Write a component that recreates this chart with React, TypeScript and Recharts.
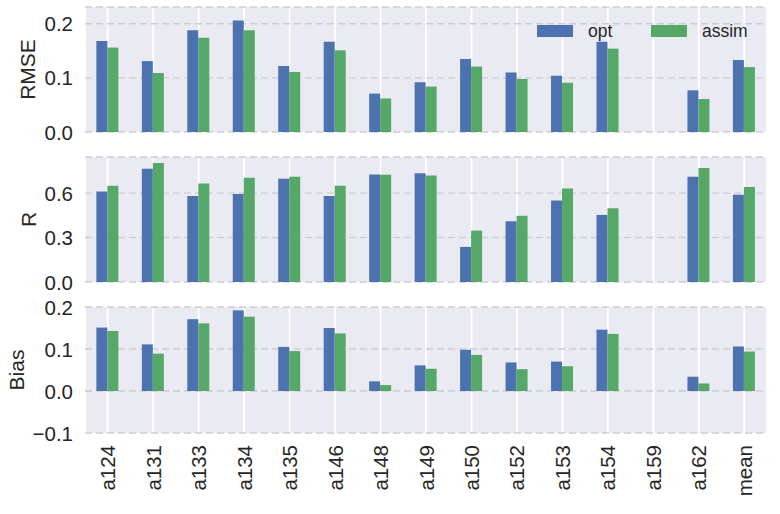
import React from 'react';
import { BarChart, Bar, XAxis, YAxis, CartesianGrid, Legend, Label } from 'recharts';

const stations = ['a124', 'a131', 'a133', 'a134', 'a135', 'a146', 'a148', 'a149', 'a150', 'a152', 'a153', 'a154', 'a159', 'a162', 'mean'];
const rmseOpt = [0.168, 0.131, 0.188, 0.206, 0.122, 0.167, 0.071, 0.092, 0.135, 0.110, 0.104, 0.167, null, 0.077, 0.133];
const rmseAssim = [0.156, 0.109, 0.174, 0.188, 0.111, 0.151, 0.062, 0.084, 0.121, 0.098, 0.091, 0.154, null, 0.061, 0.120];
const rOpt = [0.611, 0.765, 0.580, 0.595, 0.697, 0.580, 0.726, 0.735, 0.237, 0.410, 0.550, 0.453, null, 0.710, 0.589];
const rAssim = [0.650, 0.803, 0.665, 0.704, 0.710, 0.650, 0.724, 0.719, 0.347, 0.447, 0.631, 0.498, null, 0.769, 0.641];
const biasOpt = [0.151, 0.111, 0.171, 0.192, 0.105, 0.150, 0.023, 0.061, 0.098, 0.068, 0.070, 0.146, null, 0.034, 0.106];
const biasAssim = [0.143, 0.089, 0.161, 0.177, 0.095, 0.137, 0.014, 0.053, 0.086, 0.052, 0.059, 0.136, null, 0.018, 0.094];

const rmseTicks = [0, 0.1, 0.2];
const rTicks = [0, 0.3, 0.6];
const biasTicks = [-0.1, 0, 0.1, 0.2];

const seriesNames = ['opt', 'assim'];
const OPT_COLOR = '#4C72B0';
const ASSIM_COLOR = '#55A868';
const TEXT = '#262626';
const FONT = '"Liberation Sans", Arial, sans-serif';
const TICK_FS = 20.5;

const build = (a: (number | null)[], b: (number | null)[]) =>
  stations.map((s, i) => ({ name: s, opt: a[i], assim: b[i] }));

const fmt = (v: number) => {
  const s = (Math.abs(v) < 1e-9 ? 0 : v).toFixed(1);
  return s.replace('-', '\u2212');
};

const XTick = (props: any) => {
  const { x, y, payload } = props;
  return (
    <text
      x={x}
      y={y}
      transform={`rotate(-90, ${x}, ${y})`}
      textAnchor="end"
      dominantBaseline="central"
      fontSize={TICK_FS}
      fontFamily={FONT}
      fill={TEXT}
    >
      {payload.value}
    </text>
  );
};

const YTick = (props: any) => {
  const { x, y, payload } = props;
  return (
    <text
      x={x}
      y={y}
      textAnchor="end"
      dominantBaseline="central"
      fontSize={TICK_FS}
      fontFamily={FONT}
      fill={TEXT}
    >
      {fmt(payload.value)}
    </text>
  );
};

const LegendContent = (props: any) => {
  const payload = [...(props.payload || [])].sort(
    (a: any, b: any) => seriesNames.indexOf(a.value) - seriesNames.indexOf(b.value)
  );
  return (
    <div style={{ position: 'relative', width: 240, height: 24, fontFamily: FONT }}>
      {payload.map((p: any, i: number) => (
        <div
          key={p.value}
          style={{
            position: 'absolute',
            left: i * 114,
            top: 0,
            height: 24,
            display: 'flex',
            alignItems: 'center',
          }}
        >
          <div style={{ width: 36, height: 12, background: p.color }} />
          <span style={{ marginLeft: 15, fontSize: 17.5, color: TEXT, lineHeight: '24px' }}>{p.value}</span>
        </div>
      ))}
    </div>
  );
};

type PanelProps = {
  data: any[];
  ticks: number[];
  domain: [number, number];
  label: string;
  labelX: number;
  top: number;
  height: number;
  marginTop: number;
  marginBottom: number;
  showX?: boolean;
  showLegend?: boolean;
  legendTop?: number;
};

const Panel = ({ data, ticks, domain, label, labelX, top, height, marginTop, marginBottom, showX, showLegend, legendTop }: PanelProps) => (
  <div style={{ position: 'absolute', left: 0, top, width: 780, height }}>
    <BarChart
      width={780}
      height={height}
      data={data}
      margin={{ top: marginTop, bottom: marginBottom, left: 10, right: 13 }}
      barCategoryGap="25%"
      barGap={0}
    >
      <CartesianGrid horizontal={false} vertical={true} stroke="#ffffff" strokeWidth={1.8} fill="#EAEAF2" />
      <CartesianGrid horizontal={true} vertical={false} stroke="#cdcdd4" strokeWidth={1.4} strokeDasharray="7 4" />
      <XAxis
        dataKey="name"
        hide={!showX}
        height={showX ? 71 : 0}
        axisLine={false}
        tickLine={false}
        tickSize={0}
        tickMargin={12}
        interval={0}
        tick={<XTick />}
      />
      <YAxis
        type="number"
        domain={domain}
        ticks={ticks}
        interval={0}
        allowDataOverflow
        width={75}
        axisLine={false}
        tickLine={false}
        tickSize={0}
        tickMargin={12}
        tick={<YTick />}
      >
        <Label
          content={(p: any) => {
            const vb = p.viewBox || {};
            const cy = (vb.y || 0) + (vb.height || 0) / 2;
            return (
              <text
                x={labelX}
                y={cy}
                transform={`rotate(-90, ${labelX}, ${cy})`}
                textAnchor="middle"
                dominantBaseline="central"
                fontSize={21}
                fontFamily={FONT}
                fill={TEXT}
              >
                {label}
              </text>
            );
          }}
        />
      </YAxis>
      {showLegend && (
        <Legend
          layout="horizontal"
          verticalAlign="middle"
          align="center"
          content={<LegendContent />}
          wrapperStyle={{ left: 537, top: legendTop, width: 240, height: 24 }}
        />
      )}
      <Bar dataKey="opt" name={seriesNames[0]} fill={OPT_COLOR} isAnimationActive={false} />
      <Bar dataKey="assim" name={seriesNames[1]} fill={ASSIM_COLOR} isAnimationActive={false} />
    </BarChart>
  </div>
);

export default function App() {
  return (
    <div style={{ position: 'absolute', left: 0, top: 0, width: 780, height: 514, background: '#ffffff', fontFamily: FONT }}>
      <Panel
        data={build(rmseOpt, rmseAssim)}
        ticks={rmseTicks}
        domain={[0, 0.231]}
        label="RMSE"
        labelX={27}
        top={0}
        height={145}
        marginTop={7}
        marginBottom={13}
        showLegend
        legendTop={19}
      />
      <Panel
        data={build(rOpt, rAssim)}
        ticks={rTicks}
        domain={[0, 0.844]}
        label="R"
        labelX={28}
        top={145}
        height={150}
        marginTop={12}
        marginBottom={13}
      />
      <Panel
        data={build(biasOpt, biasAssim)}
        ticks={biasTicks}
        domain={[-0.1, 0.2]}
        label="Bias"
        labelX={16}
        top={295}
        height={219}
        marginTop={12}
        marginBottom={10}
        showX
      />
    </div>
  );
}
